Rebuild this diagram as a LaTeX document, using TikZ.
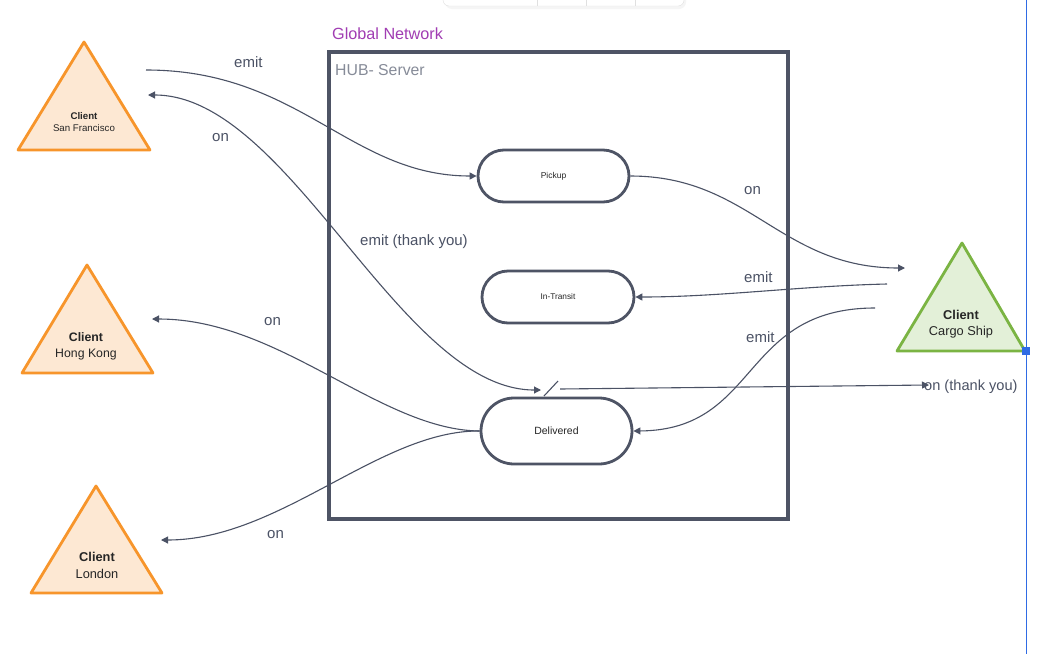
\documentclass[tikz,border=0pt]{standalone}
\usepackage{fontspec}
\setmainfont{Liberation Sans}
\usetikzlibrary{arrows.meta,shapes.misc}
\definecolor{edge}{HTML}{4B5265}
\definecolor{frame}{HTML}{4E5465}
\definecolor{orng}{HTML}{F7952B}
\definecolor{peach}{HTML}{FDE8D3}
\definecolor{grn}{HTML}{7BB443}
\definecolor{lgrn}{HTML}{E3F0D8}
\definecolor{purp}{HTML}{A13DB3}
\definecolor{hubgray}{HTML}{868B98}
\definecolor{selblue}{HTML}{2F6BE4}
\begin{document}
\begin{tikzpicture}[x=1pt,y=-1pt,
  pill/.style={rounded rectangle, draw=frame, line width=2.8pt, fill=white,
    minimum width=151pt, minimum height=52pt, inner sep=0pt, text=black!85},
  tri/.style={line width=2.8pt, line join=round},
  ttext/.style={align=center, inner sep=0pt, text=black!85},
  tip/.style={-{Triangle[length=7pt,width=7pt]}},
  conn/.style={draw=edge, line width=1.1pt, tip},
  plain/.style={draw=edge, line width=1.1pt},
  lbl/.style={font=\fontsize{15}{17}\selectfont, text=edge, inner sep=0pt},
]
\useasboundingbox (0,0) rectangle (1055,654);
\fill[white] (0,0) rectangle (1055,654);

% toolbar fragment
\fill[black!4, rounded corners=7pt] (445,-12) rectangle (686,9);
\draw[black!12, fill=white, rounded corners=6pt] (443,-14) rectangle (684,6);
\foreach \x in {537,586,635} \draw[black!12] (\x,-14) -- (\x,6);

% selection line
\draw[selblue, line width=1pt] (1026,0) -- (1026,654);

% frame
\node[anchor=base west, font=\fontsize{16.2}{18}\selectfont, text=purp, inner sep=0pt] (gn) at (332,39.5) {Global Network};
\draw[frame, line width=3.2pt] (329,52) rectangle (788,519);
\node[anchor=base west, font=\fontsize{15.8}{18}\selectfont, text=hubgray, inner sep=0pt] (hub) at (335,75) {HUB- Server};

% states
\node[pill, font=\fontsize{8.5}{10}\selectfont] (pickup) at (553.5,176) {Pickup};
\node[pill, font=\fontsize{8.3}{10}\selectfont, minimum width=152pt] (transit) at (558,297) {In-Transit};
\node[pill, font=\fontsize{10.5}{12}\selectfont, minimum height=66pt] (delivered) at (556.5,431) {Delivered};

% clients
\draw[tri, draw=orng, fill=peach] (84,42) -- (150,150) -- (18,150) -- cycle;
\node[ttext, font=\fontsize{9.7}{12}\selectfont] (sf) at (84,122) {\textbf{Client}\\San Francisco};
\draw[tri, draw=orng, fill=peach] (87,265) -- (153,373) -- (22,373) -- cycle;
\node[ttext, font=\fontsize{12.3}{15.5}\selectfont] (hk) at (86,346.5) {\textbf{Client}\\Hong Kong};
\draw[tri, draw=orng, fill=peach] (96,486) -- (162,593) -- (31,593) -- cycle;
\node[ttext, font=\fontsize{12.8}{16.5}\selectfont] (ldn) at (97,565.5) {\textbf{Client}\\London};
\draw[tri, draw=grn, fill=lgrn] (962,243) -- (1025,351) -- (897,351) -- cycle;
\node[ttext, font=\fontsize{12.8}{16.5}\selectfont] (ship) at (961,324) {\textbf{Client}\\Cargo Ship};

\fill[selblue] (1022,347) rectangle (1030,355);

% free connector ends
\coordinate (sfout) at (146,70);
\coordinate (sfin) at (148,95);
\coordinate (hkin) at (152,319);
\coordinate (ldnin) at (161,540);
\coordinate (shipin) at (905,268);
\coordinate (shipout1) at (887,284);
\coordinate (shipout2) at (875,308);
\coordinate (thx) at (541,390);
\coordinate (thxout) at (560,389);
\coordinate (thxend) at (929,385);

% connectors
\draw[conn] (sfout) .. controls (300,70) and (350,176) .. (pickup.west);
\draw[plain, {Triangle[length=7pt,width=7pt]}-{Triangle[length=7pt,width=7pt]}] (sfin) .. controls (290,95) and (400,390) .. (thx);
\draw[plain] (544,396) -- (558,381);
\draw[conn] (thxout) -- (thxend);
\draw[conn] (pickup.east) .. controls (750,176) and (780,268) .. (shipin);
\draw[conn] (shipout1) .. controls (800,286) and (720,297) .. (transit.east);
\draw[conn] (shipout2) .. controls (740,308) and (760,430) .. (delivered.east);
\draw[conn] (delivered.west) .. controls (380,430) and (280,319) .. (hkin);
\draw[conn] (delivered.west) .. controls (380,430) and (280,540) .. (ldnin);

% labels
\node[lbl, anchor=base west] (l1) at (234,67) {emit};
\node[lbl, anchor=base west] (l2) at (212,141) {on};
\node[lbl, anchor=base west] (l3) at (360,245) {emit (thank you)};
\node[lbl, anchor=base west] (l4) at (744,194) {on};
\node[lbl, anchor=base west] (l5) at (744,282) {emit};
\node[lbl, anchor=base west] (l6) at (746,342) {emit};
\node[lbl, anchor=base west] (l7) at (264,325) {on};
\node[lbl, anchor=base west] (l8) at (267,538) {on};
\node[lbl, anchor=base west, font=\fontsize{14.6}{17}\selectfont] (l9) at (924,390) {on (thank you)};
\end{tikzpicture}
\end{document}
